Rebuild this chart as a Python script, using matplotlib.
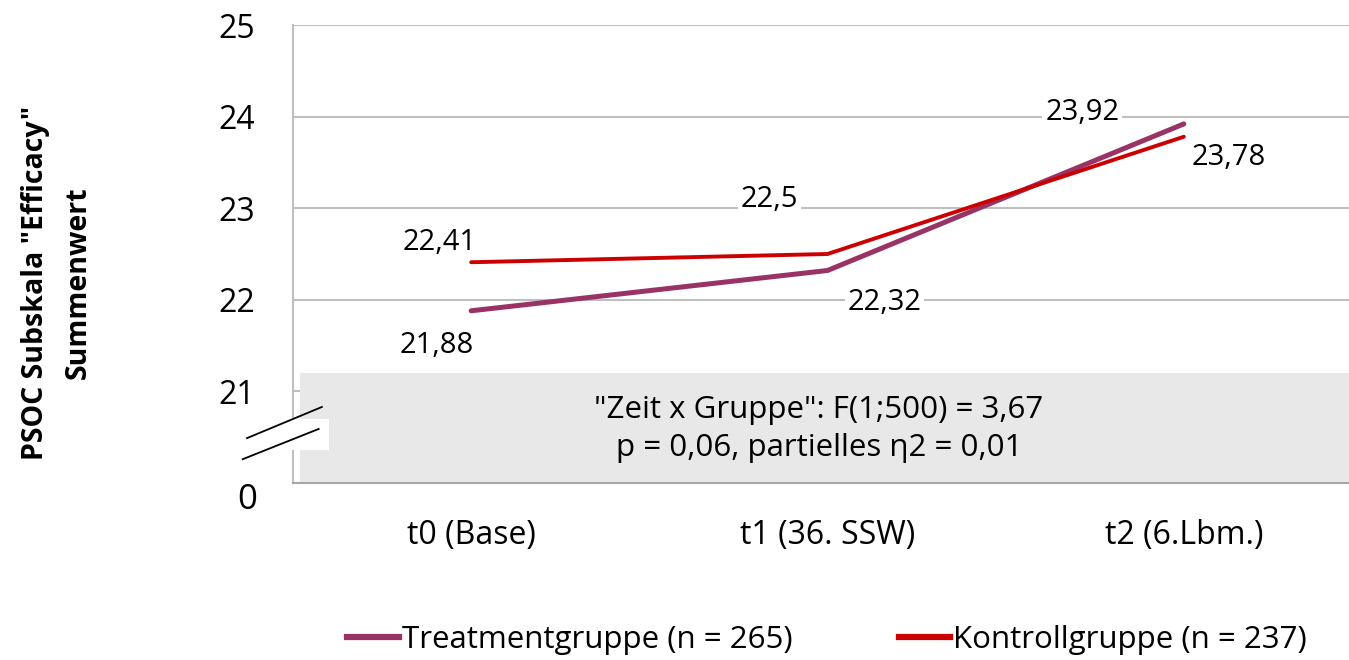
import matplotlib
matplotlib.use("Agg")
import matplotlib.pyplot as plt
from matplotlib.patches import Rectangle
from matplotlib.lines import Line2D

# data
categories = ["t0 (Base)", "t1 (36. SSW)", "t2 (6.Lbm.)"]
treatment = [21.88, 22.32, 23.92]
control = [22.41, 22.5, 23.78]
treatment_name = "Treatmentgruppe (n = 265)"
control_name = "Kontrollgruppe (n = 237)"
y_ticks = [21, 22, 23, 24, 25]
stats_text = '"Zeit x Gruppe": F(1;500) = 3,67\np = 0,06, partielles η2 = 0,01'
ylabel = 'PSOC Subskala "Efficacy"\nSummenwert'

plt.rcParams['font.family'] = ['Open Sans', 'DejaVu Sans']

W, H = 1349, 660
fig = plt.figure(figsize=(W / 100, H / 100), dpi=100)
ax = fig.add_axes([293 / W, 1 - 483 / H, 1069 / W, 458 / H])

c_treat = "#993366"
c_ctrl = "#CC0000"
grid_c = "#BFBFBF"

x = list(range(len(categories)))
ax.set_xlim(-0.5, 2.5)
ax.set_ylim(20, 25)

for y in y_ticks:
    ax.axhline(y, color=grid_c, lw=1.5, zorder=0)

# grey box with the interaction statistics
ax.add_patch(Rectangle((0.0065, 0), 1.2, 1.2 / 5, transform=ax.transAxes,
                       facecolor="#E8E8E8", edgecolor="none", zorder=1))
ax.text((819 - 293) / 1069, (483 - 429) / 458, stats_text, transform=ax.transAxes,
        ha="center", va="center", fontsize=22.5, linespacing=1.33, zorder=5)

ax.plot(x, treatment, color=c_treat, lw=3.6, solid_capstyle="round", zorder=3)
ax.plot(x, control, color=c_ctrl, lw=2.8, solid_capstyle="round", zorder=3)

# data labels (offsets in points)
lab_kw = dict(textcoords="offset points", fontsize=21, ha="center", va="center",
              bbox=dict(facecolor="white", edgecolor="none", pad=2), zorder=4)
t_off = [(-25, -25), (41, -23), (-73, 8)]
c_off = [(-23, 14), (-42, 39), (32, -15)]
for xi, v, off in zip(x, treatment, t_off):
    ax.annotate(f"{v:g}".replace(".", ","), (xi, v), xytext=off, **lab_kw)
for xi, v, off in zip(x, control, c_off):
    ax.annotate(f"{v:g}".replace(".", ","), (xi, v), xytext=off, **lab_kw)

# axes styling
for s in ["top", "right"]:
    ax.spines[s].set_visible(False)
ax.spines["left"].set_color(grid_c)
ax.spines["left"].set_linewidth(1.5)
ax.spines["bottom"].set_color("#A6A6A6")
ax.spines["bottom"].set_linewidth(1.5)
ax.set_yticks(y_ticks)
ax.set_yticklabels([str(v) for v in y_ticks], fontsize=23)
ax.set_xticks(x)
ax.set_xticklabels(categories, fontsize=23)
ax.tick_params(axis="y", length=0, pad=27)
ax.tick_params(axis="x", length=0, pad=26)
ax.text(-0.034, 20, "0", transform=ax.get_yaxis_transform(), fontsize=25,
        ha="right", va="top")

# axis break marks
ax.add_patch(Rectangle((-0.002, 0.072), 0.036, 0.068, transform=ax.transAxes,
                       facecolor="white", edgecolor="none", zorder=6, clip_on=False))
for (x0, y0, x1, y1) in [(-0.043, 0.098, 0.027, 0.166), (-0.047, 0.052, 0.024, 0.118)]:
    ax.add_line(Line2D([x0, x1], [y0, y1], transform=ax.transAxes, color="black",
                       lw=1.3, zorder=7, clip_on=False))

fig.text(57 / W, 1 - 283 / H, ylabel, rotation=90, ha="center", va="center",
         fontsize=20.5, fontweight="bold", linespacing=1.6)

handles = [Line2D([], [], color=c_treat, lw=4.5), Line2D([], [], color=c_ctrl, lw=4.5)]
fig.legend(handles, [treatment_name, control_name], loc="center",
           bbox_to_anchor=(827 / W, 1 - 640 / H), ncol=2, frameon=False,
           fontsize=22.5, handlelength=1.65, handletextpad=0.1, columnspacing=3.4)

fig.savefig("out.png", dpi=100)
